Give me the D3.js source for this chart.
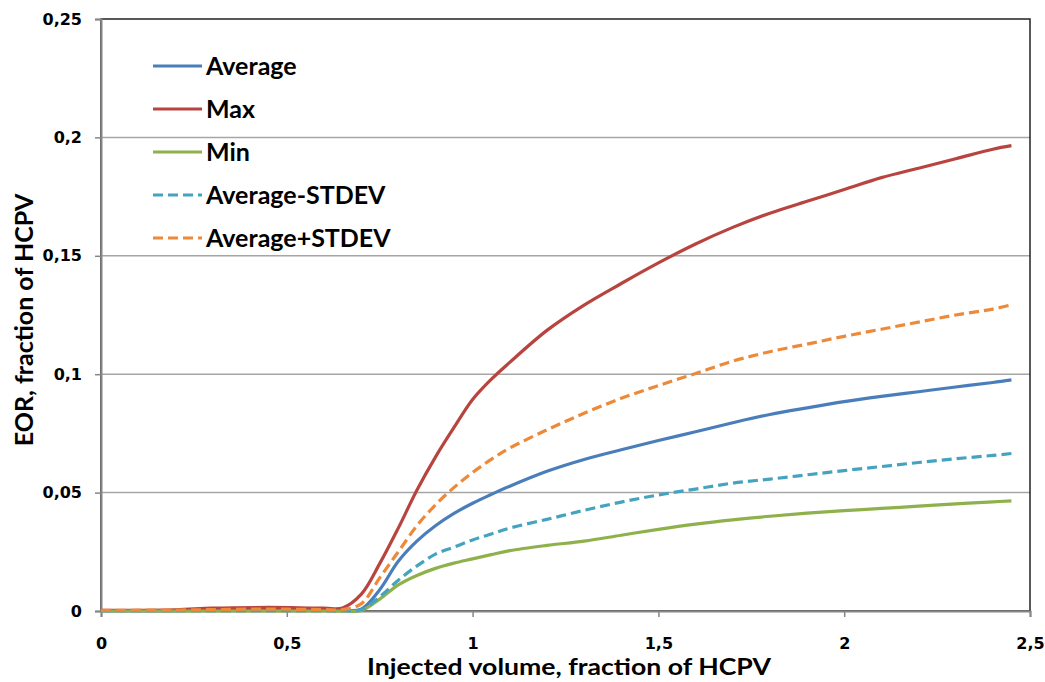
<!DOCTYPE html>
<html>
<head>
<meta charset="utf-8">
<script src="https://cdn.jsdelivr.net/npm/d3@7"></script>
<style>
  body { margin: 0; background: #fff; }
  text { font-family: Lato, "Liberation Sans", sans-serif; font-weight: bold; fill: #000; }
  .tick text { font-family: "DejaVu Sans", sans-serif; font-size: 16px; }
</style>
</head>
<body>
<div id="chart"></div>
<script>
// injected volume, fraction of HCPV
const injected = [0, 0.2, 0.3, 0.45, 0.6, 0.65, 0.7, 0.75, 0.8, 0.85, 0.9, 0.95, 1.0, 1.05, 1.1,
    1.2, 1.3, 1.4, 1.5, 1.6, 1.7, 1.8, 1.9, 2.0, 2.1, 2.2, 2.3, 2.4, 2.45]

const average = [0.0002, 0.0002, 0.0004, 0.0005, 0.0004, 0.0003, 0.0008, 0.009, 0.021, 0.0295, 0.036, 0.0412, 0.0455, 0.0492, 0.0527,
    0.059, 0.064, 0.0681, 0.072, 0.0757, 0.0795, 0.083, 0.0858, 0.0884, 0.0906, 0.0926, 0.0946, 0.0965, 0.0976]
const maxEor = [0.0003, 0.0005, 0.0012, 0.0015, 0.0012, 0.0013, 0.007, 0.020, 0.035, 0.051, 0.065, 0.0775, 0.0893, 0.0978, 0.105,
    0.1185, 0.1292, 0.1383, 0.147, 0.155, 0.162, 0.168, 0.173, 0.178, 0.183, 0.187, 0.191, 0.195, 0.1965]
const minEor = [0, 0, 0, 0, 0, 0, 0.0002, 0.005, 0.011, 0.015, 0.018, 0.0202, 0.022, 0.0238, 0.0255,
    0.0277, 0.0295, 0.032, 0.0345, 0.0367, 0.0385, 0.040, 0.0413, 0.0424, 0.0433, 0.0443, 0.0452, 0.0461, 0.0465]
const avgMinusStd = [0.0001, 0.0001, 0.0001, 0.0001, 0.0001, 0.0001, 0.0005, 0.006, 0.013, 0.019, 0.024, 0.027, 0.030, 0.0325, 0.035,
    0.0387, 0.0425, 0.046, 0.049, 0.0515, 0.054, 0.0557, 0.0575, 0.0593, 0.061, 0.0627, 0.0643, 0.0657, 0.0665]
const avgPlusStd = [0.0003, 0.0004, 0.0006, 0.0008, 0.0006, 0.0006, 0.003, 0.014, 0.025, 0.036, 0.0448, 0.0522, 0.0585, 0.064, 0.0688,
    0.0765, 0.0835, 0.0898, 0.0952, 0.1003, 0.1055, 0.1095, 0.1127, 0.116, 0.119, 0.122, 0.125, 0.1275, 0.1293]

const seriesNames = ['Average', 'Max', 'Min', 'Average-STDEV', 'Average+STDEV']
const seriesValues = [average, maxEor, minEor, avgMinusStd, avgPlusStd]
const seriesColors = ['#4a7ebb', '#b8443f', '#8fb14c', '#45a3bf', '#ec8a3a']
const seriesDashed = [false, false, false, true, true]

const xTicks = [0, 0.5, 1, 1.5, 2, 2.5]
const yTicks = [0, 0.05, 0.1, 0.15, 0.2, 0.25]

const width = 1045
const height = 682
const plot = { left: 101, right: 1030, top: 19, bottom: 611 }

const svg = d3.select('#chart').append('svg')
    .attr('width', width)
    .attr('height', height)

const x = d3.scaleLinear().domain([0, 2.5]).range([plot.left, plot.right])
const y = d3.scaleLinear().domain([0, 0.25]).range([plot.bottom, plot.top])

const fmt = d => String(d).replace('.', ',')

// gridlines
svg.append('g')
    .selectAll('line')
    .data(yTicks.filter(d => d > 0 && d < 0.25))
    .join('line')
    .attr('x1', plot.left)
    .attr('x2', plot.right)
    .attr('y1', d => y(d))
    .attr('y2', d => y(d))
    .attr('stroke', '#a6a6a6')
    .attr('stroke-width', 1.5)

// plot area border
svg.append('rect')
    .attr('x', plot.left)
    .attr('y', plot.top)
    .attr('width', plot.right - plot.left)
    .attr('height', plot.bottom - plot.top)
    .attr('fill', 'none')
    .attr('stroke', '#222')
    .attr('stroke-width', 1.5)

// axes
const xAxis = svg.append('g')
    .attr('transform', `translate(0,${plot.bottom})`)
    .call(d3.axisBottom(x).tickValues(xTicks).tickFormat(fmt).tickSize(6).tickPadding(21))
const yAxis = svg.append('g')
    .attr('transform', `translate(${plot.left},0)`)
    .call(d3.axisLeft(y).tickValues(yTicks).tickFormat(fmt).tickSize(6).tickPadding(13))

for (const ax of [xAxis, yAxis]) {
    ax.select('.domain').attr('stroke', '#868686').attr('stroke-width', 2)
    ax.selectAll('.tick line').attr('stroke', '#868686').attr('stroke-width', 1.5)
    ax.selectAll('.tick text').attr('fill', '#000')
}

// series lines
const line = d3.line()
    .x((d, i) => x(injected[i]))
    .y(d => y(d))
    .curve(d3.curveCatmullRom.alpha(0.5))

svg.append('g')
    .selectAll('path')
    .data(seriesValues)
    .join('path')
    .attr('d', d => line(d))
    .attr('fill', 'none')
    .attr('stroke', (d, i) => seriesColors[i])
    .attr('stroke-width', 3.2)
    .attr('stroke-dasharray', (d, i) => seriesDashed[i] ? '10,5' : null)
    .attr('stroke-linejoin', 'round')

// legend
const legendRows = [66, 109, 152, 195, 238]
const legend = svg.append('g')
    .selectAll('g')
    .data(seriesNames)
    .join('g')
    .attr('transform', (d, i) => `translate(153,${legendRows[i]})`)

legend.append('line')
    .attr('x1', 0)
    .attr('x2', 49)
    .attr('stroke', (d, i) => seriesColors[i])
    .attr('stroke-width', 3.2)
    .attr('stroke-dasharray', (d, i) => seriesDashed[i] ? '10,5' : null)

legend.append('text')
    .attr('x', 53)
    .attr('y', 9)
    .attr('font-size', 25)
    .text(d => d)

// axis titles
svg.append('text')
    .attr('x', 367)
    .attr('y', 675)
    .attr('font-size', 22)
    .attr('textLength', 404)
    .attr('lengthAdjust', 'spacingAndGlyphs')
    .text('Injected volume, fraction of HCPV')

svg.append('text')
    .attr('transform', 'translate(33,320) rotate(-90)')
    .attr('text-anchor', 'middle')
    .attr('font-size', 25)
    .text('EOR, fraction of HCPV')
</script>
</body>
</html>
